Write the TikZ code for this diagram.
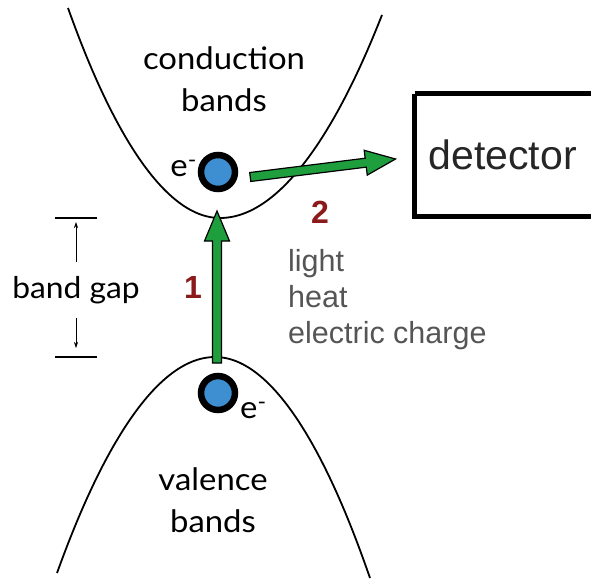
\documentclass[tikz,border=0pt]{standalone}
\usepackage{fontspec}
\setmainfont{Lato}[FakeStretch=1.06]
\newfontfamily\helv{Liberation Sans}
\usetikzlibrary{calc,arrows.meta}
\definecolor{eblue}{HTML}{3D8FD1}
\definecolor{agreen}{HTML}{1E9E3C}
\definecolor{numred}{HTML}{8B1A1A}
\definecolor{textgray}{HTML}{555555}
\begin{document}
\begin{tikzpicture}[x=1pt,y=-1pt,
  band/.style={line width=1.8pt},
  bandlabel/.style={font=\fontsize{31}{42}\selectfont, align=center, inner sep=0pt},
  electron/.style={circle, draw=black, line width=6.5pt, fill=eblue, minimum size=34pt, inner sep=0pt},
  elabel/.style={font=\fontsize{31}{31}\selectfont, inner sep=0pt},
  num/.style={font=\helv\bfseries\fontsize{32}{32}\selectfont, text=numred, inner sep=0pt},
  greenarrow/.style={fill=agreen, draw=black, line width=1.2pt, line join=miter},
  gapbar/.style={line width=1.4pt},
  gaparrow/.style={line width=0.6pt, -{Stealth[length=6pt,width=4pt]}}
]
\useasboundingbox (0,0) rectangle (591,581);
% bands
\draw[band] (68,8) parabola bend (220,218) (382,15);
\draw[band] (57,573) parabola bend (215,357) (370,578);
\node[bandlabel] (cb) at (224,79) {conduction\\bands};
\node[bandlabel] (vb) at (213,500) {valence\\bands};
% electrons
\node[electron] (eTop) at (218,172) {};
\node[electron] (eBot) at (218,393) {};
\node[elabel, anchor=east] (eTopL) at (197,168) {e\textsuperscript{-}};
\node[elabel, anchor=west] (eBotL) at (240,410) {e\textsuperscript{-}};
% detector
\node[anchor=west, minimum height=122pt, inner xsep=14pt, font=\helv\fontsize{41}{41}\selectfont, text=black!85] (det) at (414.5,155) {detector};
\draw[line width=5pt] (det.north west) -- ++(240,0) (det.north west) -- (det.south west) -- ++(240,0);
% arrow 1
\coordinate (a1) at (217,363);
\coordinate (b1) at (217,211);
\coordinate (h1) at ($(b1)!30pt!(a1)$);
\draw[greenarrow] ($(a1)!4.5pt!90:(b1)$) -- ($(h1)!4.5pt!90:(b1)$) -- ($(h1)!12.5pt!90:(b1)$) -- (b1)
  -- ($(h1)!12.5pt!-90:(b1)$) -- ($(h1)!4.5pt!-90:(b1)$) -- ($(a1)!4.5pt!-90:(b1)$) -- cycle;
% arrow 2
\coordinate (a2) at ($(eTop.east)+(12,5)$);
\coordinate (b2) at ($(det.west)+(-19,4)$);
\coordinate (h2) at ($(b2)!30pt!(a2)$);
\draw[greenarrow] ($(a2)!4.5pt!90:(b2)$) -- ($(h2)!4.5pt!90:(b2)$) -- ($(h2)!12.5pt!90:(b2)$) -- (b2)
  -- ($(h2)!12.5pt!-90:(b2)$) -- ($(h2)!4.5pt!-90:(b2)$) -- ($(a2)!4.5pt!-90:(b2)$) -- cycle;
\node[num] (n1) at (193,287) {1};
\node[num] (n2) at (320,212) {2};
% causes
\node[anchor=north west, align=left, inner sep=0pt, font=\helv\fontsize{30.5}{36}\selectfont, text=textgray] (cause) at (288,249) {light\\heat\\electric charge};
% band gap
\coordinate (gt) at (76,218);
\coordinate (gb) at (76,357);
\draw[gapbar] ($(gt)+(-21,0)$) -- ($(gt)+(21,0)$);
\draw[gapbar] ($(gb)+(-21,0)$) -- ($(gb)+(21,0)$);
\node[font=\fontsize{30}{30}\selectfont, inner xsep=0pt, inner ysep=14pt] (bg) at (76,290) {band gap};
\draw[gaparrow] (bg.north) -- ($(gt)+(0,4)$);
\draw[gaparrow] (bg.south) -- ($(gb)+(0,-9)$);
\end{tikzpicture}
\end{document}
